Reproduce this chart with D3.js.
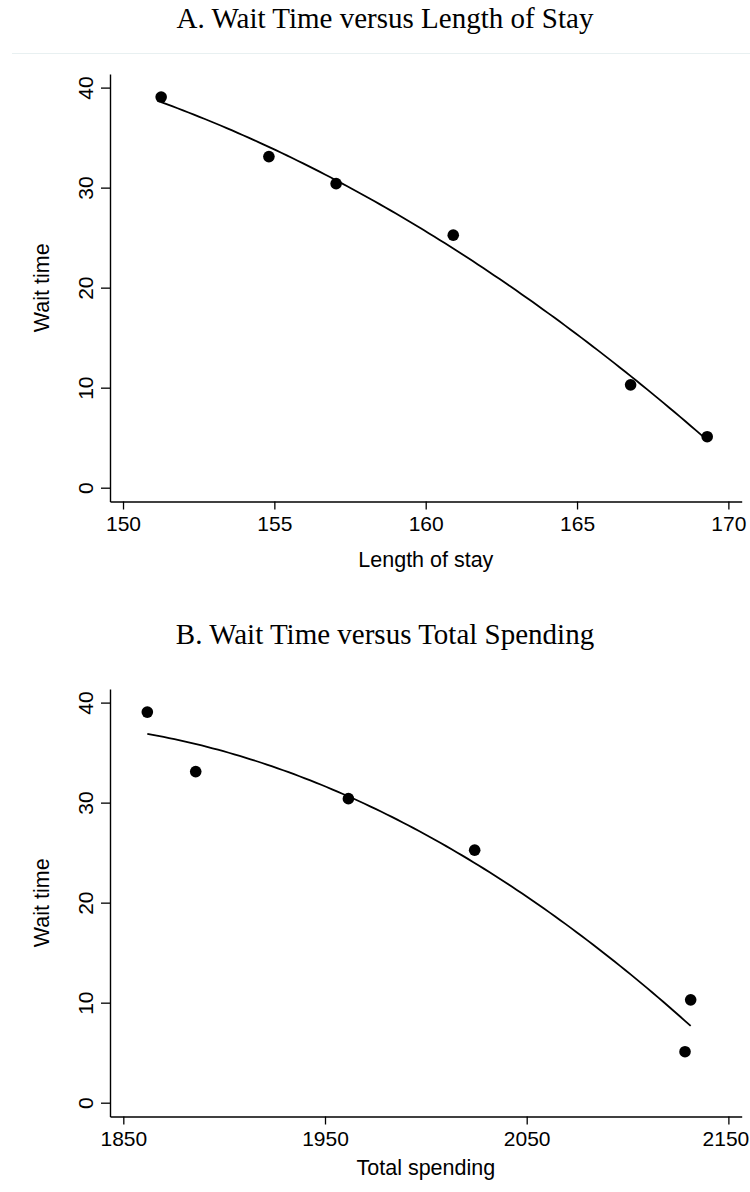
<!DOCTYPE html>
<html>
<head>
<meta charset="utf-8">
<script src="https://cdn.jsdelivr.net/npm/d3@7"></script>
<style>
  html, body { margin: 0; padding: 0; background: #ffffff; }
  svg { display: block; }
</style>
</head>
<body>
<svg id="chart" width="750" height="1192"></svg>
<script>
// ---- data ----
const waitTime      = [39.05, 33.1, 30.4, 25.25, 10.28, 5.1];
const lengthOfStay  = [151.26, 154.82, 157.04, 160.91, 166.77, 169.30];
const totalSpending = [1861.9, 1885.9, 1961.6, 2024.2, 2131.3, 2128.5];

const yTicks  = [0, 10, 20, 30, 40];
const xTicksA = [150, 155, 160, 165, 170];
const xTicksB = [1850, 1950, 2050, 2150];

const titles  = ["A. Wait Time versus Length of Stay", "B. Wait Time versus Total Spending"];
const xTitles = ["Length of stay", "Total spending"];
const yTitle  = "Wait time";

// ---- quadratic least-squares fit (like Stata qfit) ----
function qfit(xs, ys) {
  const n = xs.length;
  const mx = d3.mean(xs);
  const u = xs.map(x => x - mx);
  let S = [[0,0,0],[0,0,0],[0,0,0]], b = [0,0,0];
  for (let i = 0; i < n; i++) {
    const p = [1, u[i], u[i]*u[i]];
    for (let r = 0; r < 3; r++) {
      b[r] += p[r] * ys[i];
      for (let c = 0; c < 3; c++) S[r][c] += p[r] * p[c];
    }
  }
  const A = S.map((row, i) => row.concat([b[i]]));
  for (let i = 0; i < 3; i++) {
    let piv = i;
    for (let k = i + 1; k < 3; k++) if (Math.abs(A[k][i]) > Math.abs(A[piv][i])) piv = k;
    [A[i], A[piv]] = [A[piv], A[i]];
    for (let k = i + 1; k < 3; k++) {
      const f = A[k][i] / A[i][i];
      for (let c = i; c < 4; c++) A[k][c] -= f * A[i][c];
    }
  }
  const coef = [0,0,0];
  for (let i = 2; i >= 0; i--) {
    let s = A[i][3];
    for (let c = i + 1; c < 3; c++) s -= A[i][c] * coef[c];
    coef[i] = s / A[i][i];
  }
  const [lo, hi] = d3.extent(xs);
  return d3.range(0, 101).map(k => {
    const x = lo + (hi - lo) * k / 100;
    const t = x - mx;
    return [x, coef[0] + coef[1]*t + coef[2]*t*t];
  });
}

const svg = d3.select("#chart");
const sansFont = "'Liberation Sans', Arial, Helvetica, sans-serif";
const serifFont = "'Liberation Serif', 'Times New Roman', serif";

// faint separator under top title
svg.append("line")
  .attr("x1", 12).attr("x2", 750).attr("y1", 53.5).attr("y2", 53.5)
  .attr("stroke", "#e8f0f1").attr("stroke-width", 1);

const panels = [
  { xs: lengthOfStay, ticks: xTicksA, xDomain: [149.57, 170.44], top: 74, bottom: 501.5,
    titleY: 28, xTitleY: 567, tickLabelDy: 29 },
  { xs: totalSpending, ticks: xTicksB, xDomain: [1843.4, 2156.6], top: 689, bottom: 1116.5,
    titleY: 644, xTitleY: 1175, tickLabelDy: 29.5 }
];

const left = 110, right = 741.7;

panels.forEach((p, i) => {
  const g = svg.append("g");
  const x = d3.scaleLinear().domain(p.xDomain).range([left, right]);
  const y = d3.scaleLinear().domain([-1.38, 41.36]).range([p.bottom, p.top]);

  // title
  g.append("text")
    .attr("x", 385).attr("y", p.titleY)
    .attr("text-anchor", "middle")
    .style("font-family", serifFont).style("font-size", "29px")
    .attr("fill", "#000")
    .text(titles[i]);

  // y axis
  const ya = g.append("g")
    .attr("transform", `translate(${left},0)`)
    .call(d3.axisLeft(y).tickValues(yTicks).tickSize(9).tickSizeOuter(0).tickFormat(d3.format("d")));
  ya.select(".domain").attr("stroke", "#000").attr("stroke-width", 1.4);
  ya.selectAll(".tick line").attr("stroke", "#000").attr("stroke-width", 1.3);
  ya.selectAll(".tick text")
    .attr("transform", "rotate(-90)")
    .attr("x", 0).attr("y", -17).attr("dy", null)
    .attr("text-anchor", "middle")
    .attr("fill", "#000")
    .style("font-family", sansFont).style("font-size", "21px");

  // x axis
  const xa = g.append("g")
    .attr("transform", `translate(0,${p.bottom})`)
    .call(d3.axisBottom(x).tickValues(p.ticks).tickSize(8).tickSizeOuter(0).tickFormat(d3.format("d")));
  xa.select(".domain").attr("stroke", "#000").attr("stroke-width", 1.4);
  xa.selectAll(".tick line").attr("stroke", "#000").attr("stroke-width", 1.3);
  const lastTick = p.ticks[p.ticks.length - 1];
  xa.selectAll(".tick text")
    .attr("y", p.tickLabelDy).attr("dy", null)
    .attr("x", d => (d === lastTick && d > 1000) ? -3 : 0)
    .attr("fill", "#000")
    .style("font-family", sansFont).style("font-size", "21px");

  // axis titles
  g.append("text")
    .attr("x", (left + right) / 2).attr("y", p.xTitleY)
    .attr("text-anchor", "middle")
    .style("font-family", sansFont).style("font-size", "21.5px")
    .attr("fill", "#000")
    .text(xTitles[i]);
  g.append("text")
    .attr("transform", `translate(49,${(p.top + p.bottom) / 2}) rotate(-90)`)
    .attr("text-anchor", "middle")
    .style("font-family", sansFont).style("font-size", "21.5px")
    .attr("fill", "#000")
    .text(yTitle);

  // fitted curve
  const fit = qfit(p.xs, waitTime);
  g.append("path")
    .datum(fit)
    .attr("fill", "none").attr("stroke", "#000").attr("stroke-width", 1.8)
    .attr("d", d3.line().x(d => x(d[0])).y(d => y(d[1])));

  // points
  g.selectAll("circle.pt")
    .data(p.xs.map((v, k) => [v, waitTime[k]]))
    .join("circle")
    .attr("class", "pt")
    .attr("cx", d => x(d[0])).attr("cy", d => y(d[1]))
    .attr("r", 5.8).attr("fill", "#000");
});
</script>
</body>
</html>
